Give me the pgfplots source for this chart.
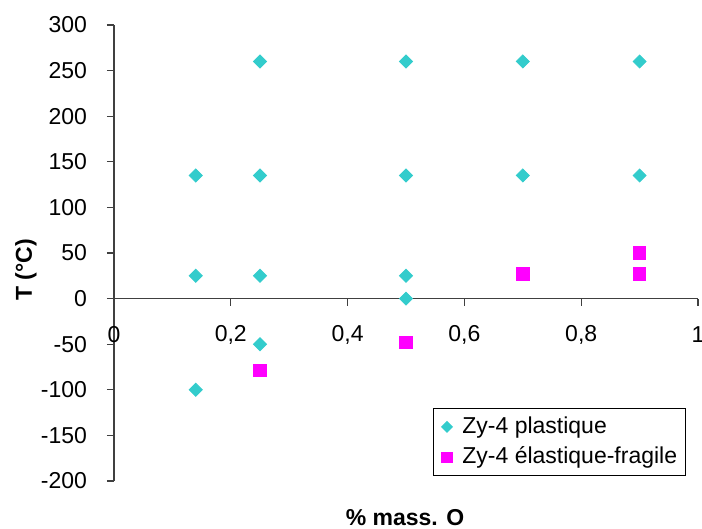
\documentclass[border=0pt]{standalone}
\usepackage{fontspec}
\setmainfont{Liberation Sans}
\usepackage{pgfplots}
\pgfplotsset{compat=1.18}
\definecolor{cyanpt}{RGB}{51,204,204}
\definecolor{magpt}{RGB}{255,0,255}
\newcommand{\fs}{\fontsize{11.5}{13.8}\selectfont}
\begin{document}
\fs
\begin{tikzpicture}
\path[use as bounding box] (-57pt,-24pt) rectangle (294pt,240.5pt);
\begin{axis}[
  scale only axis,
  width=292pt, height=228pt,
  xmin=0, xmax=1, ymin=-200, ymax=300,
  axis x line=middle,
  axis y line=left,
  hide obscured x ticks=false,
  axis line style={-, black!75, line width=0.6pt},
  xtick={0,0.2,0.4,0.6,0.8,1},
  xticklabels={0,{0,2},{0,4},{0,6},{0,8},1},
  ytick={-200,-150,-100,-50,0,50,100,150,200,250,300},
  yticklabels={-200,-150,-100,-50,0,50,100,150,200,250,300},
  tick style={black!75, line width=0.6pt},
  major tick length=3.5pt,
  xtick align=outside,
  ytick align=outside,
  x tick label style={font=\fs, anchor=center, yshift=-14.5pt},
  y tick label style={font=\fs, anchor=east, xshift=-6pt},
  xticklabel style={inner sep=0pt},
  clip=false,
  legend style={at={(rel axis cs:0.979,0.011)}, anchor=south east,
    draw=black, line width=0.6pt, font=\fs,
    inner xsep=2pt, inner ysep=2pt, row sep=1pt, legend cell align=left},
  legend image code/.code={\path[draw=none,fill=none] (0cm,0cm) rectangle (0.36cm,0cm);\draw[#1,/tikz/every mark/.append style={scale=0.8}] plot coordinates {(0.16cm,0cm)};},
]
\addplot[only marks, mark=square*, mark size=2.3pt, color=cyanpt,
  mark options={rotate=45, fill=cyanpt, draw=cyanpt}]
  coordinates {
  (0.14,135) (0.14,25) (0.14,-100)
  (0.25,260) (0.25,135) (0.25,25) (0.25,-50)
  (0.5,260) (0.5,135) (0.5,25) (0.5,0)
  (0.7,260) (0.7,135)
  (0.9,260) (0.9,135)
  };
\addlegendentry{Zy-4 plastique}
\addplot[only marks, mark=square*, mark size=3.1pt, color=magpt,
  mark options={fill=magpt, draw=magpt}]
  coordinates {
  (0.25,-79) (0.5,-48) (0.7,27) (0.9,27) (0.9,50)
  };
\addlegendentry{Zy-4 élastique-fragile}
\end{axis}
\node[rotate=90, font=\bfseries\fs] at (-44pt,105.5pt) {T (°C)};
\node[font=\bfseries\fs] at (145.5pt,-18.5pt) {\% mass. O};
\end{tikzpicture}
\end{document}
